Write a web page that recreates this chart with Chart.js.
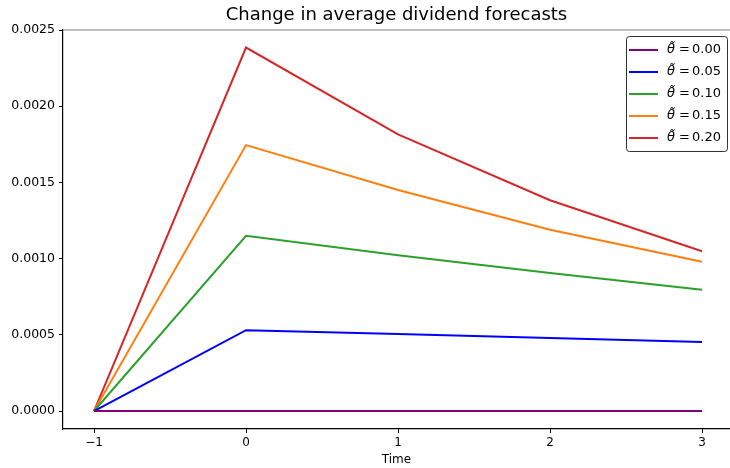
<!DOCTYPE html>
<html>
<head>
<meta charset="utf-8">
<script src="https://cdn.jsdelivr.net/npm/chart.js@4"></script>
<style>
  body { margin: 0; background: #fff; }
  #wrap { width: 730px; height: 468px; }
</style>
</head>
<body>
<div id="wrap"><canvas id="dividends" width="730" height="468"></canvas></div>
<script>
const times = [-1, 0, 1, 2, 3];
const thetaLabels = ['0.00', '0.05', '0.10', '0.15', '0.20'];
const theta000 = [0, 0, 0, 0, 0];
const theta005 = [0, 0.000530, 0.000505, 0.000479, 0.000453];
const theta010 = [0, 0.001150, 0.001022, 0.000906, 0.000796];
const theta015 = [0, 0.001745, 0.001450, 0.001190, 0.000980];
const theta020 = [0, 0.002385, 0.001815, 0.001383, 0.001048];
const lineColors = ['#800080', '#0000ff', '#2ca02c', '#ff7f0e', '#d62728'];

const series = [theta000, theta005, theta010, theta015, theta020];
const FONT = 'DejaVu Sans';

const datasets = series.map((vals, i) => ({
    label: thetaLabels[i],
    data: vals.map((v, j) => ({ x: times[j], y: v })),
    borderColor: lineColors[i],
    backgroundColor: lineColors[i],
    borderWidth: 2,
    pointRadius: 0,
    tension: 0,
    fill: false
}));

// top spine (gray) like the original figure
const topSpine = {
    id: 'topSpine',
    afterDraw(chart) {
        const { ctx, chartArea } = chart;
        ctx.save();
        ctx.strokeStyle = '#808080';
        ctx.lineWidth = 1.2;
        ctx.beginPath();
        ctx.moveTo(chartArea.left, chartArea.top);
        ctx.lineTo(chart.width, chartArea.top);
        ctx.stroke();
        ctx.restore();
    }
};

// legend drawn inside the plot, upper right
const boxLegend = {
    id: 'boxLegend',
    afterDraw(chart) {
        const ctx = chart.ctx;
        const x = 626, y = 36, w = 101, h = 115, r = 3;
        ctx.save();
        ctx.fillStyle = 'rgba(255,255,255,0.85)';
        ctx.strokeStyle = 'rgba(0,0,0,0.8)';
        ctx.lineWidth = 1;
        ctx.beginPath();
        ctx.roundRect(x + 0.5, y + 0.5, w, h, r);
        ctx.fill();
        ctx.stroke();
        chart.data.datasets.forEach((ds, i) => {
            const ry = 50 + i * 22;
            ctx.strokeStyle = ds.borderColor;
            ctx.lineWidth = 2;
            ctx.beginPath();
            ctx.moveTo(629, ry);
            ctx.lineTo(658, ry);
            ctx.stroke();
            ctx.fillStyle = '#000';
            ctx.textBaseline = 'middle';
            ctx.textAlign = 'left';
            ctx.font = 'italic 13px "' + FONT + '"';
            ctx.fillText('\u03B8\u0303', 667, ry);
            ctx.font = '13px "' + FONT + '"';
            ctx.fillText('=', 679, ry);
            ctx.fillText(ds.label, 692, ry);
        });
        ctx.restore();
    }
};

new Chart(document.getElementById('dividends'), {
    type: 'line',
    data: { datasets: datasets },
    plugins: [topSpine, boxLegend],
    options: {
        responsive: false,
        animation: false,
        layout: { padding: { left: 0, right: 0, top: 0, bottom: 0 } },
        plugins: {
            legend: { display: false },
            tooltip: { enabled: false },
            title: {
                display: true,
                fullSize: false,
                text: 'Change in average dividend forecasts',
                color: '#000',
                font: { family: FONT, size: 18, weight: 'normal' },
                padding: { top: 5, bottom: 3.4 }
            }
        },
        scales: {
            x: {
                type: 'linear',
                min: -1.204,
                max: 3.184,
                afterFit(scale) { scale.height = 39; },
                afterBuildTicks(scale) {
                    scale.ticks = times.map(t => ({ value: t }));
                },
                ticks: {
                    color: '#000',
                    padding: 3,
                    maxRotation: 0,
                    font: { family: FONT, size: 12 },
                    callback: v => v < 0 ? '\u2212' + Math.abs(v) : String(v)
                },
                grid: { drawOnChartArea: false, drawTicks: true, tickLength: 4, color: '#000' },
                border: { color: '#000', width: 1.2 },
                title: {
                    display: true,
                    text: 'Time',
                    color: '#000',
                    font: { family: FONT, size: 12 },
                    padding: { top: 0, bottom: 1 }
                }
            },
            y: {
                type: 'linear',
                min: -0.000118,
                max: 0.0025,
                afterFit(scale) { scale.width = 63; },
                ticks: {
                    color: '#000',
                    stepSize: 0.0005,
                    includeBounds: false,
                    padding: 4,
                    font: { family: FONT, size: 12.5 },
                    callback: v => v.toFixed(4)
                },
                grid: { drawOnChartArea: false, drawTicks: true, tickLength: 4, color: '#000' },
                border: { color: '#000', width: 1.2 }
            }
        }
    }
});
</script>
</body>
</html>
